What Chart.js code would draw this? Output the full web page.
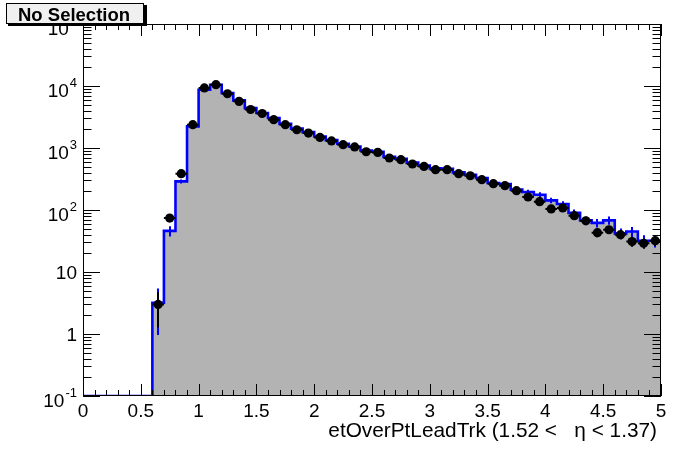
<!DOCTYPE html>
<html>
<head>
<meta charset="utf-8">
<script src="https://cdn.jsdelivr.net/npm/chart.js@4/dist/chart.umd.min.js"></script>
<style>
  html, body { margin: 0; padding: 0; background: #fff; }
  #wrap { width: 696px; height: 472px; position: relative; }
</style>
</head>
<body>
<div id="wrap"><canvas id="histo" width="696" height="472"></canvas></div>
<script>
// bin edges go 0 .. 5 in steps of 0.1 (50 bins)
const binLow = [0, 0.1, 0.2, 0.3, 0.4, 0.5, 0.6, 0.7, 0.8, 0.9,
  1.0, 1.1, 1.2, 1.3, 1.4, 1.5, 1.6, 1.7, 1.8, 1.9,
  2.0, 2.1, 2.2, 2.3, 2.4, 2.5, 2.6, 2.7, 2.8, 2.9,
  3.0, 3.1, 3.2, 3.3, 3.4, 3.5, 3.6, 3.7, 3.8, 3.9,
  4.0, 4.1, 4.2, 4.3, 4.4, 4.5, 4.6, 4.7, 4.8, 4.9];
const binWidth = 0.1;

// data counts (black points)
const dataCounts = [0, 0, 0, 0, 0, 0, 3, 74, 385, 2380,
  9300, 10500, 7500, 5650, 4180, 3600, 2860, 2380, 1970, 1740,
  1480, 1300, 1130, 1040, 870, 850, 690, 648, 552, 505,
  447, 447, 385, 357, 308, 266, 247, 205, 162, 136,
  104, 108, 81, 67, 43, 48, 40, 31, 29, 32];

// simulation (grey filled, blue outline)
const mcCounts = [0, 0, 0, 0, 0, 0, 3.2, 46, 290, 2230,
  8700, 10500, 7700, 5860, 4400, 3670, 3050, 2450, 2050, 1800,
  1530, 1340, 1170, 1060, 910, 870, 720, 670, 580, 520,
  470, 464, 404, 371, 328, 272, 262, 213, 195, 176,
  143, 125, 90, 68, 62, 68, 42, 45, 32, 32];

const xTickValues = [0, 0.5, 1, 1.5, 2, 2.5, 3, 3.5, 4, 4.5, 5];
const xTickLabels = ['0', '0.5', '1', '1.5', '2', '2.5', '3', '3.5', '4', '4.5', '5'];
const yTickValues = [0.1, 1, 10, 100, 1000, 10000, 100000];
const yTickBase = ['10', '1', '10', '10', '10', '10', '10'];
const yTickExp = ['-1', '', '', '2', '3', '4', '5'];

const title = 'No Selection';
const xTitle = 'etOverPtLeadTrk (1.52 <   \u03b7 < 1.37)';

const FONT = '"Liberation Sans", Arial, Helvetica, sans-serif';
const Y_MIN = 0.1;

// step points: one per left edge, plus the right edge of the last bin
// empty bins sit on the axis floor (log axis can't show 0)
const mcSteps = binLow.map((lo, i) => ({ x: lo, y: Math.max(mcCounts[i], Y_MIN) }));
mcSteps.push({ x: binLow[binLow.length - 1] + binWidth, y: mcCounts[mcCounts.length - 1] });

const dataPoints = [];
binLow.forEach((lo, i) => {
  if (dataCounts[i] > 0) dataPoints.push({ x: lo + binWidth / 2, y: dataCounts[i] });
});

const rootStyle = {
  id: 'rootStyle',
  beforeDatasetDraw(chart, args) {
    if (args.index !== 0) return;
    const { ctx, scales: { x, y } } = chart;
    ctx.save();
    // mc errors (blue)
    ctx.strokeStyle = '#0000ff';
    ctx.lineWidth = 2;
    binLow.forEach((lo, i) => {
      const v = mcCounts[i];
      if (v <= 0) return;
      const err = Math.sqrt(v) * 1.25;
      const px = Math.round(x.getPixelForValue(lo + binWidth / 2));
      ctx.beginPath();
      ctx.moveTo(px, y.getPixelForValue(v + err));
      ctx.lineTo(px, y.getPixelForValue(Math.max(v - err, Y_MIN)));
      ctx.stroke();
    });
    // data errors (black)
    ctx.strokeStyle = '#000';
    binLow.forEach((lo, i) => {
      const v = dataCounts[i];
      if (v <= 0) return;
      const err = Math.sqrt(v);
      const px = Math.round(x.getPixelForValue(lo + binWidth / 2));
      const py = y.getPixelForValue(v);
      ctx.beginPath();
      ctx.moveTo(px, y.getPixelForValue(v + err));
      ctx.lineTo(px, y.getPixelForValue(Math.max(v - err, Y_MIN)));
      ctx.moveTo(x.getPixelForValue(lo), py);
      ctx.lineTo(x.getPixelForValue(lo + binWidth), py);
      ctx.stroke();
    });
    ctx.restore();
  },
  afterDatasetsDraw(chart) {
    const { ctx, chartArea: a, scales: { x, y } } = chart;
    ctx.save();
    ctx.strokeStyle = '#000';
    ctx.lineWidth = 1;
    ctx.strokeRect(a.left + 0.5, a.top + 0.5, a.right - a.left - 1, a.bottom - a.top - 1);

    // x ticks, bottom and top
    ctx.beginPath();
    for (let i = 0; i <= 50; i++) {
      const px = Math.round(x.getPixelForValue(i / 10)) + 0.5;
      const len = i % 5 === 0 ? 12 : 6;
      ctx.moveTo(px, a.bottom);
      ctx.lineTo(px, a.bottom - len);
      ctx.moveTo(px, a.top);
      ctx.lineTo(px, a.top + len);
    }
    // y ticks, left and right
    for (let k = -1; k <= 4; k++) {
      for (let m = 1; m <= 9; m++) {
        const py = Math.round(y.getPixelForValue(m * Math.pow(10, k))) + 0.5;
        const len = m === 1 ? 17 : 8.5;
        ctx.moveTo(a.left, py);
        ctx.lineTo(a.left + len, py);
        ctx.moveTo(a.right, py);
        ctx.lineTo(a.right - len, py);
      }
    }
    ctx.stroke();

    // tick labels
    ctx.fillStyle = '#000';
    ctx.font = '19px ' + FONT;
    ctx.textAlign = 'center';
    ctx.textBaseline = 'alphabetic';
    xTickValues.forEach((v, i) => {
      ctx.fillText(xTickLabels[i], x.getPixelForValue(v), a.bottom + 21);
    });

    yTickValues.forEach((v, i) => {
      const py = y.getPixelForValue(v);
      const right = a.left - 6;
      ctx.textAlign = 'right';
      if (yTickExp[i]) {
        ctx.font = '13px ' + FONT;
        const ew = ctx.measureText(yTickExp[i]).width;
        ctx.fillText(yTickExp[i], right, py + 1);
        ctx.font = '19px ' + FONT;
        ctx.fillText(yTickBase[i], right - ew - 1, py + 11);
      } else {
        ctx.font = '19px ' + FONT;
        ctx.fillText(yTickBase[i], right, py + 7);
      }
    });

    // axis title
    ctx.font = '20.8px ' + FONT;
    ctx.textAlign = 'right';
    ctx.fillText(xTitle, a.right - 4, a.bottom + 41);

    // title box with shadow
    ctx.fillStyle = '#000';
    ctx.fillRect(8, 5, 139, 21);
    ctx.fillStyle = '#f0f0f0';
    ctx.fillRect(6, 3, 138, 21);
    ctx.strokeRect(6.5, 3.5, 137, 20);
    ctx.fillStyle = '#000';
    ctx.font = 'bold 18.5px ' + FONT;
    ctx.textAlign = 'left';
    ctx.fillText(title, 18, 21);
    ctx.restore();
  }
};

const canvas = document.getElementById('histo');
new Chart(canvas.getContext('2d'), {
  type: 'line',
  data: {
    datasets: [
      {
        label: 'data',
        data: dataPoints,
        showLine: false,
        pointRadius: 4.6,
        pointBackgroundColor: '#000',
        pointBorderColor: '#000',
        pointBorderWidth: 0
      },
      {
        label: 'mc',
        data: mcSteps,
        stepped: 'before',
        fill: 'start',
        backgroundColor: '#b3b3b3',
        borderColor: '#0000ff',
        borderWidth: 2.6,
        pointRadius: 0
      }
    ]
  },
  options: {
    responsive: false,
    animation: false,
    events: [],
    layout: { padding: { left: 83, right: 35, top: 24, bottom: 76 } },
    plugins: { legend: { display: false }, tooltip: { enabled: false } },
    scales: {
      x: { type: 'linear', min: 0, max: 5, display: false },
      y: { type: 'logarithmic', min: Y_MIN, max: 100000, display: false }
    }
  },
  plugins: [rootStyle]
});
</script>
</body>
</html>
